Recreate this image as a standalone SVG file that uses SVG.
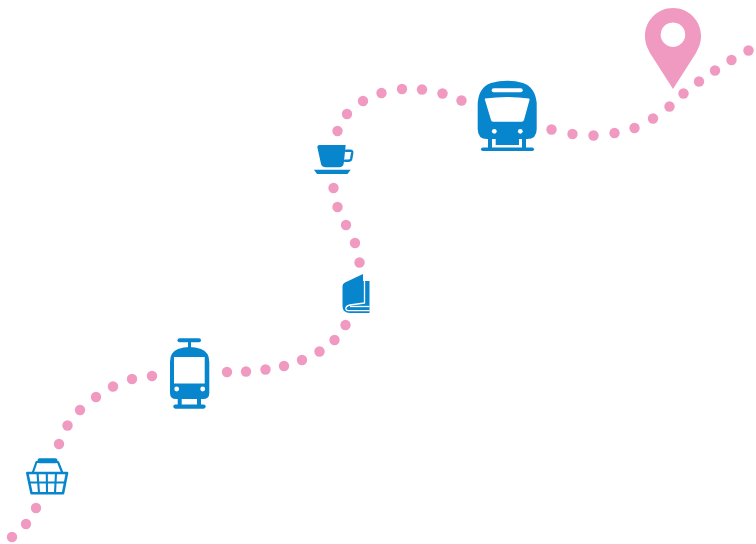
<svg xmlns="http://www.w3.org/2000/svg" width="756" height="544" viewBox="0 0 756 544">
<style>
.d{fill:#f09ac2}
.i{fill:#0886cd}
.l{fill:none;stroke:#0886cd;stroke-linecap:round;stroke-linejoin:round}
.w{fill:#fff}
.n{fill:none;stroke:#fff;stroke-linejoin:round}
</style>
<rect width="756" height="544" fill="#fff"/>
<g id="connectors" class="d">
<circle cx="12" cy="537" r="5.200"/><circle cx="26" cy="524" r="5.200"/><circle cx="36" cy="508" r="5.200"/>
<circle cx="59" cy="444" r="5.200"/><circle cx="67.500" cy="425.500" r="5.200"/><circle cx="80" cy="410" r="5.200"/><circle cx="96" cy="397" r="5.200"/><circle cx="113" cy="386.500" r="5.200"/><circle cx="132" cy="379" r="5.200"/><circle cx="152" cy="376" r="5.200"/>
<circle cx="227" cy="372" r="5.200"/><circle cx="246" cy="371.500" r="5.200"/><circle cx="265.500" cy="369.500" r="5.200"/><circle cx="284" cy="366" r="5.200"/><circle cx="302" cy="360" r="5.200"/><circle cx="319.500" cy="351.500" r="5.200"/><circle cx="334.500" cy="340" r="5.200"/><circle cx="345.500" cy="325" r="5.200"/>
<circle cx="359.500" cy="262.500" r="5.200"/><circle cx="355" cy="243" r="5.200"/><circle cx="346" cy="225" r="5.200"/><circle cx="337.500" cy="207" r="5.200"/><circle cx="333.500" cy="188" r="5.200"/>
<circle cx="337.500" cy="131" r="5.200"/><circle cx="347" cy="114" r="5.200"/><circle cx="363" cy="101" r="5.200"/><circle cx="381.500" cy="93" r="5.200"/><circle cx="402" cy="89" r="5.200"/><circle cx="422" cy="89.500" r="5.200"/><circle cx="442.500" cy="93.500" r="5.200"/><circle cx="461.500" cy="100.500" r="5.200"/>
<circle cx="551.500" cy="129.500" r="5.200"/><circle cx="572.500" cy="134" r="5.200"/><circle cx="593.500" cy="135.500" r="5.200"/><circle cx="614.500" cy="133" r="5.200"/><circle cx="634.500" cy="128" r="5.200"/><circle cx="653" cy="118.500" r="5.200"/><circle cx="669.500" cy="106.500" r="5.200"/><circle cx="683.500" cy="93.500" r="5.200"/><circle cx="699" cy="81.500" r="5.200"/><circle cx="715" cy="70.500" r="5.200"/><circle cx="731.500" cy="60" r="5.200"/><circle cx="748.500" cy="50.500" r="5.200"/>
</g>
<g id="basket">
<path class="l" stroke-width="2.200" d="M33 472L36.500 462H58L62 472"/>
<rect class="i" x="37.500" y="458.300" width="20" height="5" rx="2.200"/>
<path class="l" stroke-width="2.600" d="M27.300 473H67L63 493.300H31.500Z"/>
<path class="l" stroke-width="2.100" d="M29 482.500H65M37.500 473L39 493M46.800 473L47 493M56 473L55 493"/>
</g>
<g id="tram">
<rect class="i" x="177.500" y="338.300" width="23.500" height="4" rx="2"/>
<rect class="i" x="188" y="341" width="3" height="7"/>
<path class="i" d="M170 362Q170 352 178 349Q189.500 345 201 349Q209.300 352 209.300 362V393Q209.300 399 203 399H176Q170 399 170 393Z"/>
<rect class="w" x="174" y="357" width="30.700" height="26.500"/>
<circle class="w" cx="176.700" cy="389" r="2.400"/><circle class="w" cx="202.700" cy="389" r="2.400"/>
<path class="i" d="M177.700 398h4v7h-4zM197 398h4v7h-4z"/>
<rect class="i" x="173.300" y="404.400" width="32.400" height="4.300" rx="2.100"/>
</g>
<g id="book">
<path class="i" d="M342.500 286Q342.500 283.500 345 282.500L363 274V281H369.500V313H350Q342.500 313 342.500 306Z"/>
<path class="n" stroke-width="1.300" d="M364.500 275V303L350 305Q345.800 306 345.800 308.500Q345.800 310.700 350 310.700H369.500"/>
<path class="n" stroke-width="1.300" d="M350 306.500H369.500"/>
</g>
<g id="cup">
<path class="i" d="M317.300 147Q317.300 145 319.500 145H345.700L343.800 163Q343.300 167.300 339 167.300H326Q321.500 167.300 320.800 163Z"/>
<path class="l" stroke-width="2.400" d="M346 150.800H350.500Q352.500 150.800 352.200 153L351.200 158.800Q350.800 160.800 348.500 160.800H345"/>
<path class="i" d="M314 169.800H350.700L347.500 174H317Z"/>
</g>
<g id="train">
<path class="i" d="M477.700 103Q479 87 491 83Q507.200 78.500 523 83Q535 87 536.700 103V129Q536.700 139 527 139H487Q477.700 139 477.700 129Z"/>
<rect class="w" x="491.700" y="88.300" width="31" height="4" rx="2"/>
<path class="w" d="M485 98.500Q507 95.500 529 98.500Q529.800 99 529.500 100L524 120Q523.500 121.800 521.500 121.800H493Q491.300 121.800 491 120L485 100Q484.700 99 485 98.500Z"/>
<circle class="w" cx="494.300" cy="131.300" r="2.400"/><circle class="w" cx="520.300" cy="131.300" r="2.400"/>
<path class="i" d="M488 138h4v10h-4zM522 138h4v10h-4zM495.700 138h23.300v7h-23.300z"/>
<rect class="i" x="481" y="147.500" width="53" height="3.600" rx="1.800"/>
</g>
<g id="pin">
<path class="d" fill-rule="evenodd" d="M673 8C657 8 645 21 645 36C645 43 647 47 650 53L673 89L696 53C699 47 701 43 701 36C701 21 689 8 673 8ZM673 22.400A12.300 12.300 0 1 1 672.900 22.400Z"/>
</g>
</svg>
